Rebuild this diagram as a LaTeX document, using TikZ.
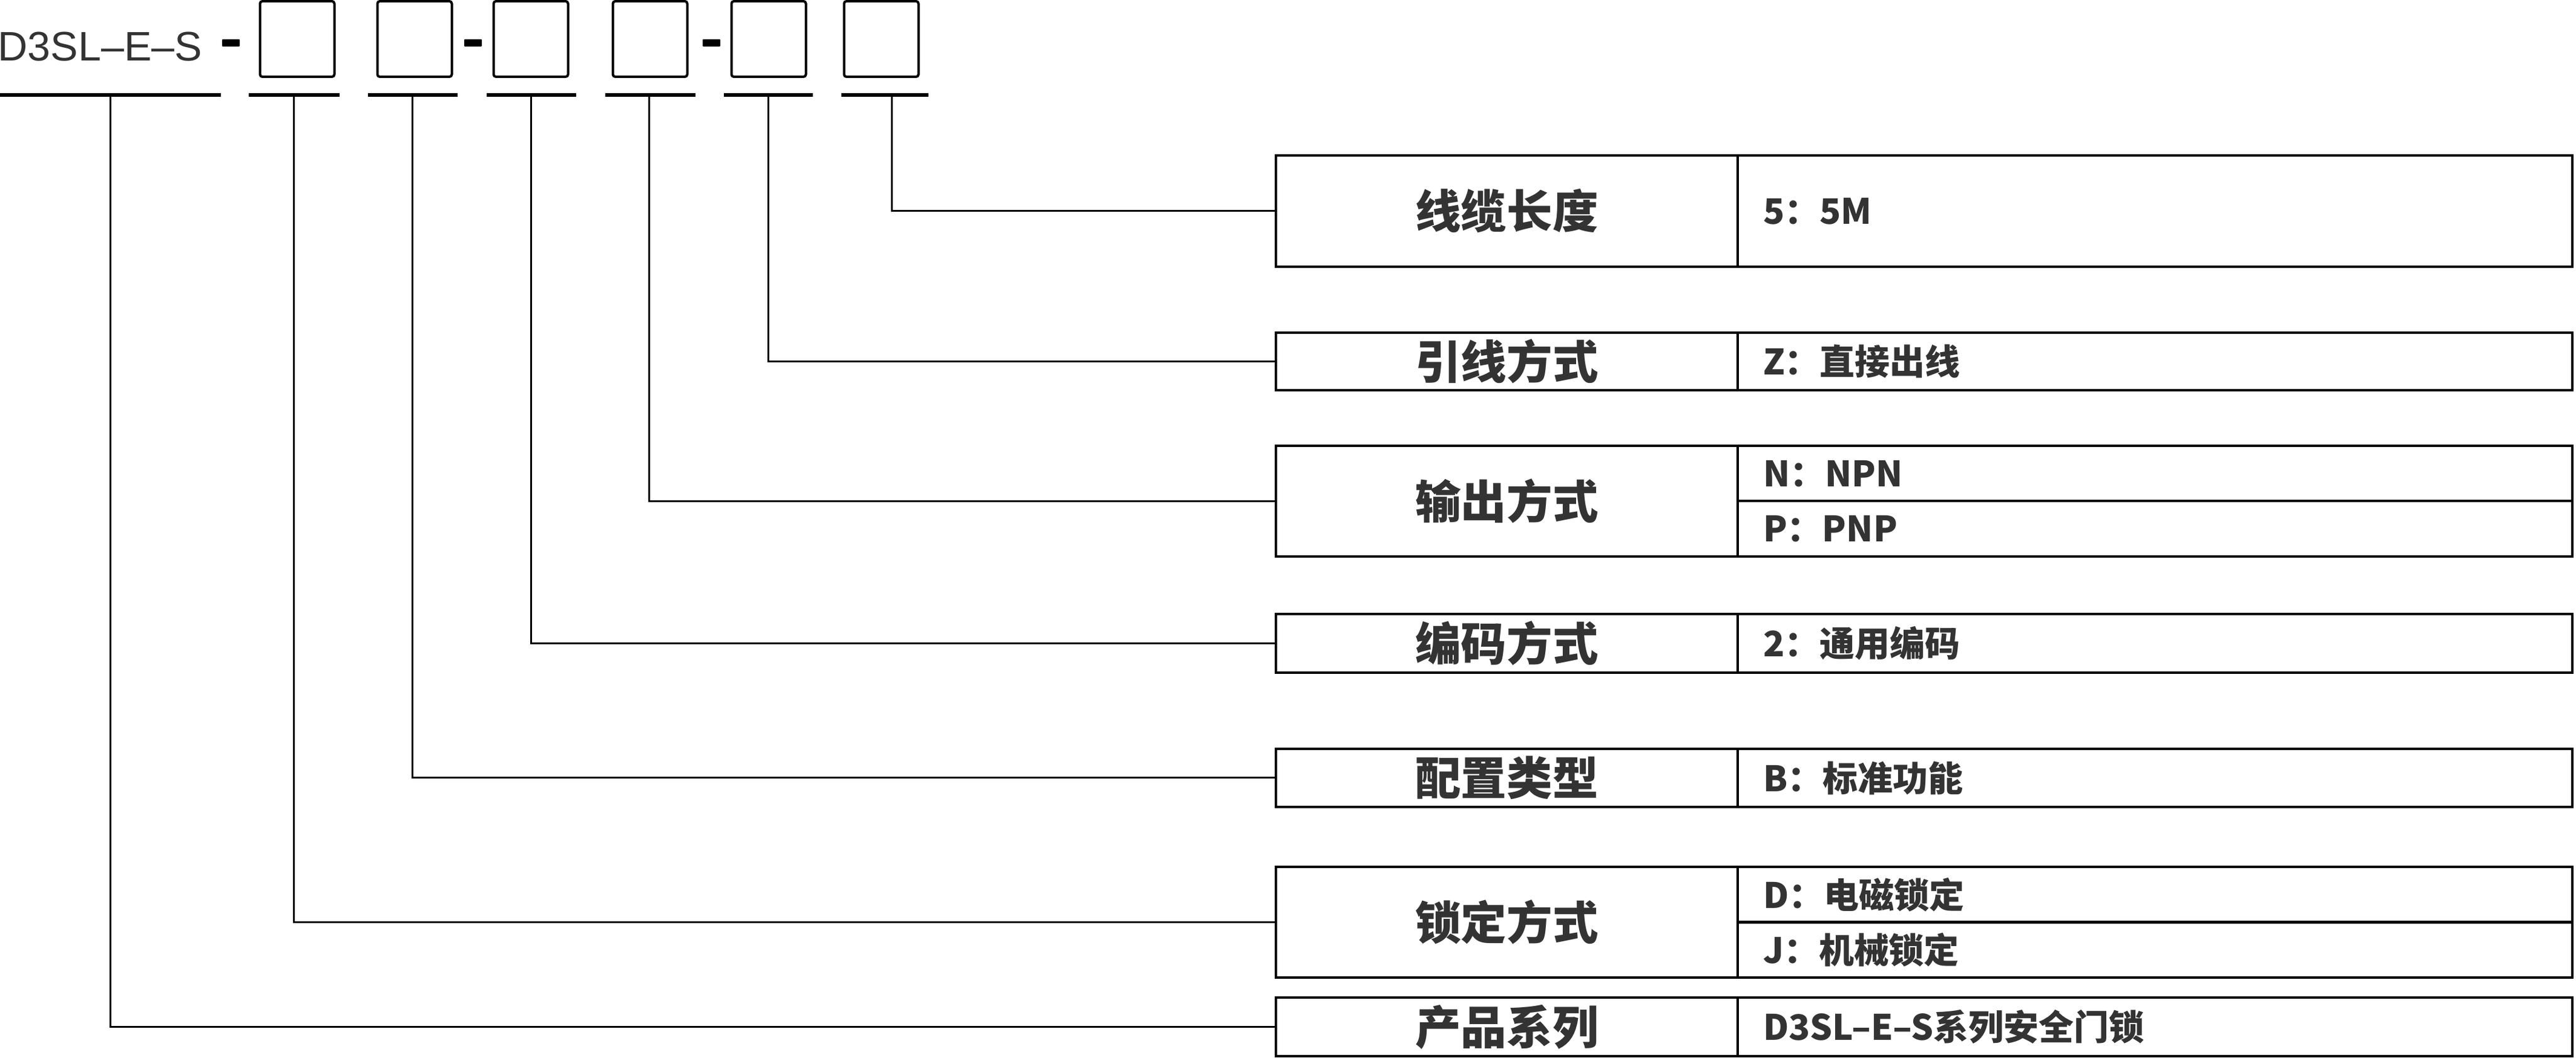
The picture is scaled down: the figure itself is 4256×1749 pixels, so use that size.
\documentclass[tikz,border=0pt]{standalone}
\usepackage{fontspec}
\setmainfont{Noto Sans CJK SC}
\newfontfamily\headfont{Liberation Sans}
\usepackage{tikz}
\definecolor{ink}{HTML}{333333}

\begin{document}
\begin{tikzpicture}[x=0.1mm, y=-0.1mm,
    cell/.style={draw, line width=0.4mm, inner sep=0pt},
    keycell/.style={cell, minimum width=76.3mm, minimum height=#1, text=ink,
      font=\fontsize{21.5}{25}\selectfont\bfseries},
    valcell/.style={cell, minimum height=#1, text width=129.5mm, inner xsep=4.2mm,
      align=left, text=ink, font=\fontsize{16.5}{19}\selectfont\bfseries},
    slot/.style={draw, line width=0.4mm, rounded corners=0.4mm,
      minimum width=12.3mm, minimum height=12.5mm},
    link/.style={line width=0.3mm}]
      \useasboundingbox (0,0) rectangle (4256,1749);
      \node[anchor=west, inner sep=0pt, text=ink, font=\headfont\fontsize{19.4}{22}\selectfont] (head) at (-4,77) {D3SL–E–S};
      \node[slot] (b1) at (491,64.5)  {};
      \node[slot] (b2) at (685,64.5)  {};
      \node[slot] (b3) at (877,64.5)  {};
      \node[slot] (b4) at (1074,64.5) {};
      \node[slot] (b5) at (1270,64.5) {};
      \node[slot] (b6) at (1456,64.5) {};
      \foreach \a in {367,767,1161}
        \fill[rounded corners=0.1mm] (\a,65) rectangle ++(29,12);
      \foreach \a/\b in {0/365, 411/561, 608/756, 804/952, 1000/1149, 1196/1343, 1390/1534}
        \draw[line width=0.6mm] (\a,157) -- (\b,157);
      \coordinate (u1) at (182,157);
      \coordinate (u2) at (485,157);
      \coordinate (u3) at (681,157);
      \coordinate (u4) at (877,157);
      \coordinate (u5) at (1072,157);
      \coordinate (u6) at (1269,157);
      \coordinate (u7) at (1473,157);
      \node[keycell=18.4mm] (k1) at (2489.5,349)    {线缆长度};
      \node[keycell=9.5mm]  (k2) at (2489.5,597.5)  {引线方式};
      \node[keycell=18.3mm] (k3) at (2489.5,828.5)  {输出方式};
      \node[keycell=9.7mm]  (k4) at (2489.5,1063.5) {编码方式};
      \node[keycell=9.6mm]  (k5) at (2489.5,1286)   {配置类型};
      \node[keycell=18.3mm] (k6) at (2489.5,1524.5) {锁定方式};
      \node[keycell=9.7mm]  (k7) at (2489.5,1697.5) {产品系列};
      \node[valcell=18.4mm]  (v1)  at (3560.5,349)     {5：5M};
      \node[valcell=9.5mm]   (v2)  at (3560.5,597.5)   {Z：直接出线};
      \node[valcell=9.15mm]  (v3a) at (3560.5,782.75)  {N：NPN};
      \node[valcell=9.15mm]  (v3b) at (3560.5,874.25)  {P：PNP};
      \node[valcell=9.7mm]   (v4)  at (3560.5,1063.5)  {2：通用编码};
      \node[valcell=9.6mm]   (v5)  at (3560.5,1286)    {B：标准功能};
      \node[valcell=9.15mm]  (v6a) at (3560.5,1478.75) {D：电磁锁定};
      \node[valcell=9.15mm]  (v6b) at (3560.5,1570.25) {J：机械锁定};
      \node[valcell=9.7mm]   (v7)  at (3560.5,1697.5)  {D3SL–E–S系列安全门锁};
      \foreach \u/\k in {u7/k1, u6/k2, u5/k3, u4/k4, u3/k5, u2/k6, u1/k7}
        \draw[link] (\u) |- (\k.west);
  \end{tikzpicture}
\end{document}
